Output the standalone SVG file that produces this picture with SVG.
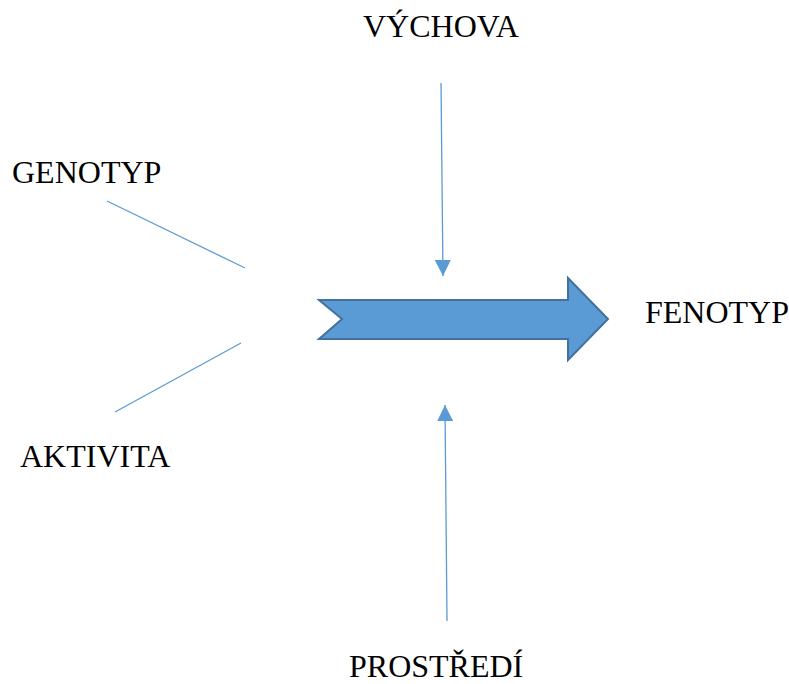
<svg xmlns="http://www.w3.org/2000/svg" width="789" height="684" viewBox="0 0 789 684">
<style>
text{font-family:'Liberation Serif','Times New Roman',Times,serif;font-size:32px;fill:#000}
.ln{stroke:#5B9BD5;stroke-width:1.3;fill:none}
</style>
<defs>
<marker id="ah" viewBox="0 0 16 16" refX="16" refY="8" markerWidth="16" markerHeight="16" markerUnits="userSpaceOnUse" orient="auto">
<path d="M0,0 L16,8 L0,16 Z" fill="#5B9BD5"/>
</marker>
</defs>
<rect width="789" height="684" fill="#fff"/>
<g id="main-arrow">
<path d="M319,300 L568,300 L568,278 L608,319 L568,360 L568,339 L319,339 L342,319 Z" fill="#5B9BD5" stroke="#41719C" stroke-width="2"/>
</g>
<g id="vychova"><text font-family="Liberation Serif, serif" x="363" y="37">VÝCHOVA</text></g>
<g id="genotyp"><text font-family="Liberation Serif, serif" x="12" y="183">GENOTYP</text></g>
<g id="aktivita"><text font-family="Liberation Serif, serif" x="20" y="467">AKTIVITA</text></g>
<g id="fenotyp"><text font-family="Liberation Serif, serif" x="645" y="323">FENOTYP</text></g>
<g id="prostredi"><text font-family="Liberation Serif, serif" x="349" y="677">PROSTŘEDÍ</text></g>
<g id="connectors">
<line class="ln" x1="107" y1="201" x2="245" y2="268"/>
<line class="ln" x1="115" y1="412" x2="241" y2="343"/>
<line class="ln" x1="441" y1="83" x2="443" y2="276" marker-end="url(#ah)"/>
<line class="ln" x1="447" y1="621" x2="445" y2="405" marker-end="url(#ah)"/>
</g>
</svg>
